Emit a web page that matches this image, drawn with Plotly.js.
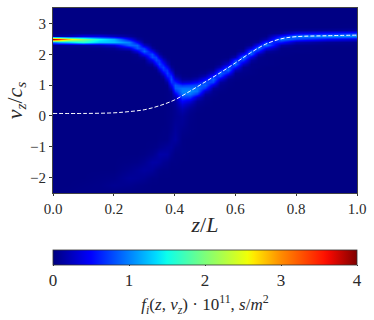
<!DOCTYPE html>
<html>
<head>
<meta charset="utf-8">
<script src="https://cdn.plot.ly/plotly-3.0.1.min.js"></script>
<style>
  html, body { margin: 0; padding: 0; background: #fff; }
  #plot { width: 374px; height: 320px; }
</style>
</head>
<body>
<div id="plot"></div>
<script>
// z/L stations of the map columns
const zStations = [0, 0.02, 0.05, 0.1, 0.15, 0.2, 0.25, 0.275, 0.3, 0.325, 0.3375, 0.35, 0.3625, 0.375, 0.3875, 0.4, 0.425, 0.45,
  0.475, 0.5, 0.525, 0.55, 0.575, 0.6, 0.625, 0.65, 0.675, 0.7, 0.75, 0.8, 0.9, 1];

// v_z/c_s rows: coarse below 0, fine between 0 and 3, one row at the top
const vRows = [-2.5, -2.25, -2, -1.75, -1.5, -1.25, -1, -0.75, -0.5, -0.25,
  0, 0.1, 0.2, 0.3, 0.4, 0.5, 0.6, 0.7, 0.8, 0.9,
  1, 1.1, 1.2, 1.3, 1.4, 1.5, 1.6, 1.7, 1.8, 1.9,
  2, 2.1, 2.2, 2.3, 2.4, 2.5, 2.6, 2.7, 2.8, 2.9, 3,
  3.5];

// f_i * 10^11 * 100, one line per z station
// groups: below 0 | 0..0.9 | 1..1.9 | 2..3 | 3.5
const densityColumns = [
  [2,2,2,2,2,2,2,2,2,2, 2,2,2,2,2,2,2,2,2,2, 2,2,2,2,2,2,2,2,2,2, 2,2,3,4,100,390,12,3,2,2,2, 2],
  [2,2,2,2,2,2,2,2,2,2, 2,2,2,2,2,2,2,2,2,2, 2,2,2,2,2,2,2,2,2,2, 2,2,3,5,120,350,15,3,2,2,2, 2],
  [3,2,2,2,2,2,2,2,2,2, 2,2,2,2,2,2,2,2,2,2, 2,2,2,2,2,2,2,2,2,2, 2,2,3,8,130,275,20,4,2,2,2, 2],
  [4,3,2,2,2,2,2,2,2,2, 2,2,2,2,2,2,2,2,2,2, 2,2,2,2,2,2,2,2,2,2, 2,2,3,10,160,205,40,5,2,2,2, 2],
  [4,4,3,2,2,2,2,2,2,2, 2,2,2,2,2,2,2,2,2,2, 2,2,2,2,2,2,2,2,2,2, 2,2,4,18,130,150,40,5,2,2,2, 2],
  [3,7,4,2,2,2,2,2,2,2, 2,2,2,2,2,2,2,2,2,2, 2,2,2,2,2,2,2,2,2,2, 2,3,8,35,125,120,25,4,2,2,2, 2],
  [2,6,10,6,3,2,2,2,2,2, 2,2,2,2,2,2,2,2,2,2, 2,2,2,2,2,2,2,2,2,2, 2,5,35,90,100,50,10,3,2,2,2, 2],
  [2,4,9,9,4,2,2,2,2,2, 2,2,2,2,2,2,2,2,2,2, 2,2,2,2,2,2,2,2,3,4, 9,39,84,90,48,13,3,2,2,2,2, 2],
  [2,3,7,12,7,3,2,2,2,2, 2,2,2,2,2,2,2,2,2,2, 2,2,2,2,2,2,2,2,3,17, 54,89,72,29,6,3,2,2,2,2,2, 2],
  [2,2,3,10,14,6,3,2,2,2, 2,2,2,2,2,2,2,2,2,2, 2,2,2,2,2,2,3,13,44,79, 79,44,13,3,2,2,2,2,2,2,2, 2],
  [2,2,3,6,14,10,4,2,2,2, 2,2,2,2,2,2,2,2,2,2, 2,2,2,2,2,4,18,49,77,73, 42,14,3,2,2,2,2,2,2,2,2, 2],
  [2,2,2,4,12,15,6,3,2,2, 2,2,2,2,2,2,2,2,2,2, 2,2,2,2,8,27,57,77,68,38, 14,4,2,2,2,2,2,2,2,2,2, 2],
  [2,2,2,3,8,15,8,3,3,2, 2,2,2,2,2,2,2,2,2,2, 2,2,4,16,40,66,74,56,29,11, 3,2,2,2,2,2,2,2,2,2,2, 2],
  [2,2,2,3,6,14,10,4,3,3, 3,3,3,3,3,3,3,3,3,3, 5,15,35,60,74,68,45,22,8,3, 2,2,2,2,2,2,2,2,2,2,2, 2],
  [2,2,2,2,3,7,11,9,6,5, 4,4,4,4,5,5,5,5,10,25, 47,69,78,69,47,25,10,3,2,2, 2,2,2,2,2,2,2,2,2,2,2, 2],
  [2,2,2,2,3,3,6,13,11,9, 7,7,7,8,10,12,20,40,65,85, 85,62,38,18,6,3,2,2,2,2, 2,2,2,2,2,2,2,2,2,2,2, 2],
  [2,2,2,2,2,3,3,3,5,8, 10,13,17,25,35,50,75,95,100,95, 70,30,10,4,2,2,2,2,2,2, 2,2,2,2,2,2,2,2,2,2,2, 2],
  [2,2,2,2,2,2,2,2,3,3, 4,5,7,12,20,35,70,95,105,95, 75,35,10,3,2,2,2,2,2,2, 2,2,2,2,2,2,2,2,2,2,2, 2],
  [2,2,2,2,2,2,2,2,2,2, 2,2,3,4,6,10,30,70,95,95, 80,50,20,6,3,2,2,2,2,2, 2,2,2,2,2,2,2,2,2,2,2, 2],
  [2,2,2,2,2,2,2,2,2,2, 2,2,2,2,3,4,6,12,32,68, 88,80,50,22,7,3,2,2,2,2, 2,2,2,2,2,2,2,2,2,2,2, 2],
  [2,2,2,2,2,2,2,2,2,2, 2,2,2,2,2,2,3,5,6,12, 38,75,90,65,30,10,3,2,2,2, 2,2,2,2,2,2,2,2,2,2,2, 2],
  [2,2,2,2,2,2,2,2,2,2, 2,2,2,2,2,2,2,2,3,5, 6,13,38,75,90,60,22,6,3,2, 2,2,2,2,2,2,2,2,2,2,2, 2],
  [2,2,2,2,2,2,2,2,2,2, 2,2,2,2,2,2,2,2,2,2, 3,4,6,22,58,90,80,35,10,3, 2,2,2,2,2,2,2,2,2,2,2, 2],
  [2,2,2,2,2,2,2,2,2,2, 2,2,2,2,2,2,2,2,2,2, 2,2,3,4,6,22,58,95,70,20, 5,2,2,2,2,2,2,2,2,2,2, 2],
  [2,2,2,2,2,2,2,2,2,2, 2,2,2,2,2,2,2,2,2,2, 2,2,2,3,4,6,8,28,70,95, 50,12,3,2,2,2,2,2,2,2,2, 2],
  [2,2,2,2,2,2,2,2,2,2, 2,2,2,2,2,2,2,2,2,2, 2,2,2,2,3,3,4,4,13,40, 85,88,38,8,3,2,2,2,2,2,2, 2],
  [2,2,2,2,2,2,2,2,2,2, 2,2,2,2,2,2,2,2,2,2, 2,2,2,2,2,2,3,3,4,6, 22,62,95,55,12,3,2,2,2,2,2, 2],
  [2,2,2,2,2,2,2,2,2,2, 2,2,2,2,2,2,2,2,2,2, 2,2,2,2,2,2,2,3,3,3, 4,13,45,95,70,18,4,2,2,2,2, 2],
  [2,2,2,2,2,2,2,2,2,2, 2,2,2,2,2,2,2,2,2,2, 2,2,2,2,2,2,2,2,2,2, 3,3,4,15,58,100,58,10,3,2,2, 2],
  [2,2,2,2,2,2,2,2,2,2, 2,2,2,2,2,2,2,2,2,2, 2,2,2,2,2,2,2,2,2,2, 2,3,3,5,20,75,100,38,6,2,2, 2],
  [2,2,2,2,2,2,2,2,2,2, 2,2,2,2,2,2,2,2,2,2, 2,2,2,2,2,2,2,2,2,2, 2,2,2,3,8,50,105,55,8,2,2, 2],
  [2,2,2,2,2,2,2,2,2,2, 2,2,2,2,2,2,2,2,2,2, 2,2,2,2,2,2,2,2,2,2, 2,2,2,3,6,35,105,68,10,3,2, 2]
];

// dashed white curve
const lineZ = [0, 0.1, 0.2, 0.25, 0.3, 0.35, 0.4, 0.45, 0.5, 0.55, 0.6, 0.65, 0.7, 0.75, 0.8, 0.9, 1];
const lineV = [0.08, 0.08, 0.1, 0.14, 0.2, 0.33, 0.52, 0.8, 1.1, 1.4, 1.72, 2.05, 2.33, 2.5, 2.57, 2.6, 2.62];

// matplotlib jet
const jetScale = [
  [0, "#00007f"], [0.11, "#0000f1"], [0.125, "#0000ff"], [0.34, "#00dcff"], [0.375, "#0cffeb"],
  [0.5, "#7dff7a"], [0.64, "#f0ff07"], [0.66, "#ffea00"], [0.75, "#ff8c00"], [0.89, "#ff1400"],
  [0.91, "#f10800"], [1, "#7f0000"]
];

const colorTicks = [0, 1, 2, 3, 4];
const textColor = "#2a2a2a";
const serif = "'Liberation Serif', serif";

const traces = [
  {
    type: "heatmap",
    x: zStations,
    y: vRows,
    z: densityColumns.map((col) => col.map((val) => val / 100)),
    transpose: true,
    zsmooth: "best",
    zmin: 0,
    zmax: 4,
    colorscale: jetScale,
    hoverinfo: "skip",
    colorbar: {
      orientation: "h",
      x: 0,
      xanchor: "left",
      xpad: 0,
      y: -0.307,
      yanchor: "top",
      ypad: 0,
      len: 1,
      thickness: 15,
      outlinewidth: 0.8,
      outlinecolor: "#333",
      tickvals: colorTicks,
      ticks: "outside",
      ticklen: 1,
      tickcolor: "#333",
      tickfont: { family: serif, size: 17, color: textColor },
      title: {
        text: "<i>f<sub>i</sub></i>(<i>z</i>, <i>v<sub>z</sub></i>) · 10<sup>11</sup>, <i>s</i>/<i>m</i><sup>2</sup>",
        side: "bottom",
        font: { family: serif, size: 17, color: textColor },
      },
    },
  },
  {
    type: "scatter",
    mode: "lines",
    x: lineZ,
    y: lineV,
    line: { color: "#ffffff", width: 1, dash: "4px,2px", shape: "spline" },
    hoverinfo: "skip",
    showlegend: false,
  },
];

const layout = {
  width: 374,
  height: 320,
  margin: { l: 53, r: 17, t: 7.5, b: 127, autoexpand: false },
  paper_bgcolor: "#fff",
  plot_bgcolor: "#00007f",
  showlegend: false,
  font: { family: serif, color: textColor },
  xaxis: {
    range: [0, 1],
    tickvals: [0, 0.2, 0.4, 0.6, 0.8, 1],
    tickformat: ".1f",
    ticks: "outside",
    ticklen: 2,
    tickcolor: "#333",
    tickfont: { family: serif, size: 15, color: textColor },
    showgrid: false,
    zeroline: false,
    showline: true,
    mirror: true,
    linecolor: "#444",
    linewidth: 1,
    title: { text: "<i>z</i>/<i>L</i>", font: { family: serif, size: 22, color: textColor }, standoff: 0 },
  },
  yaxis: {
    range: [-2.5, 3.5],
    tickvals: [-2, -1, 0, 1, 2, 3],
    ticks: "outside",
    ticklen: 3,
    tickcolor: "#333",
    tickfont: { family: serif, size: 15, color: textColor },
    showgrid: false,
    zeroline: false,
    showline: true,
    mirror: true,
    linecolor: "#444",
    linewidth: 1,
    title: { text: "<i>v<sub>z</sub></i>/<i>c<sub>s</sub></i>", font: { family: serif, size: 22, color: textColor }, standoff: 1 },
  },
};

Plotly.newPlot("plot", traces, layout, { displayModeBar: false, staticPlot: true });
</script>
</body>
</html>
